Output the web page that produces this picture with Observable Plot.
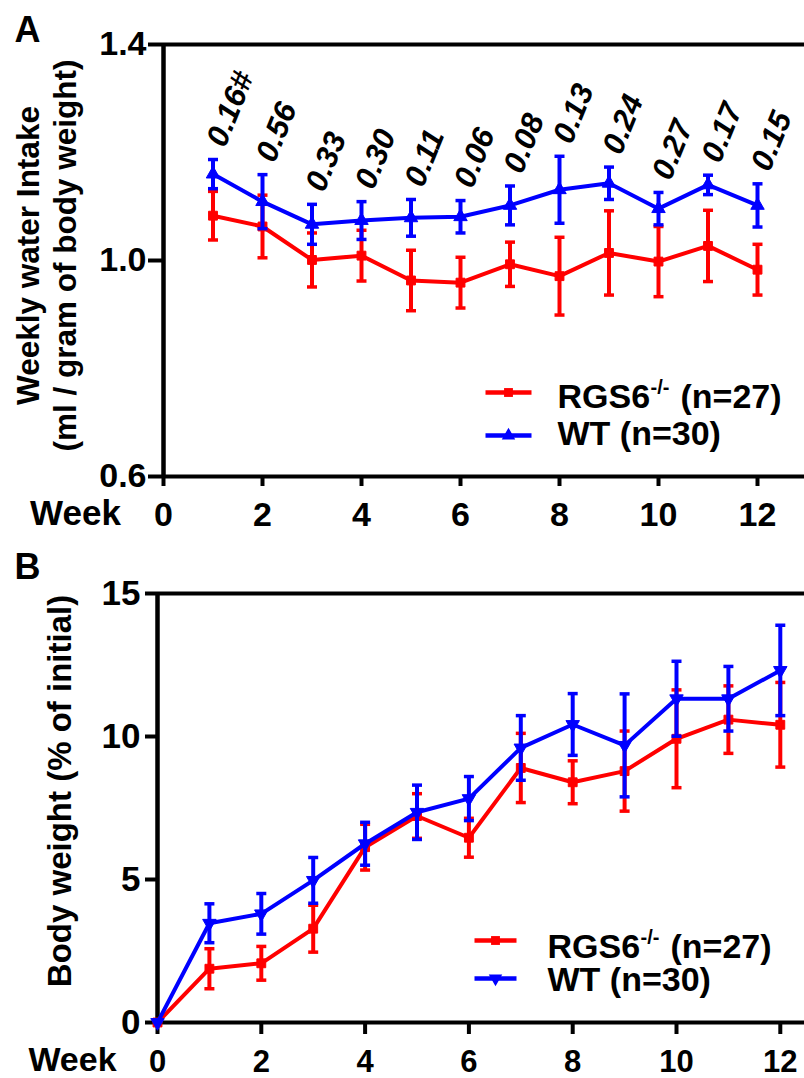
<!DOCTYPE html>
<html><head><meta charset="utf-8">
<script src="https://cdn.jsdelivr.net/npm/d3@7"></script>
<script src="https://cdn.jsdelivr.net/npm/@observablehq/plot@0.6"></script>
<style>
html,body{margin:0;padding:0;background:#fff;}
#fig{width:804px;overflow:hidden;}
#fig svg{display:block;}
</style></head><body><div id="fig"></div>
<script>
// ---------- data ----------
const weeksA = [1, 2, 3, 4, 5, 6, 7, 8, 9, 10, 11, 12];
const rgsIntake    = [1.083, 1.063, 1.001, 1.009, 0.963, 0.959, 0.993, 0.971, 1.014, 0.998, 1.027, 0.983];
const rgsIntakeSem = [0.045, 0.058, 0.050, 0.047, 0.056, 0.047, 0.041, 0.072, 0.078, 0.065, 0.066, 0.047];
const wtIntake     = [1.160, 1.109, 1.067, 1.074, 1.079, 1.081, 1.102, 1.131, 1.143, 1.096, 1.140, 1.102];
const wtIntakeSem  = [0.027, 0.050, 0.037, 0.035, 0.034, 0.030, 0.036, 0.062, 0.030, 0.030, 0.018, 0.040];
const pValues = ["0.16#", "0.56", "0.33", "0.30", "0.11", "0.06", "0.08", "0.13", "0.24", "0.27", "0.17", "0.15"];

const weeksB = [0, 1, 2, 3, 4, 5, 6, 7, 8, 9, 10, 11, 12];
const rgsWeight    = [0, 1.88, 2.07, 3.28, 6.13, 7.22, 6.46, 8.90, 8.40, 8.79, 9.92, 10.59, 10.41];
const rgsWeightSem = [0, 0.70, 0.59, 0.82, 0.80, 0.78, 0.68, 1.21, 0.75, 1.40, 1.71, 1.18, 1.48];
const wtWeight     = [0, 3.47, 3.80, 4.97, 6.25, 7.35, 7.83, 9.60, 10.42, 9.69, 11.32, 11.32, 12.31];
const wtWeightSem  = [0, 0.68, 0.71, 0.80, 0.75, 0.95, 0.77, 1.13, 1.08, 1.80, 1.31, 1.13, 1.58];

const xTicks = [0, 2, 4, 6, 8, 10, 12];
const yTicksA = [0.6, 1.0, 1.4];
const yTicksB = [0, 5, 10, 15];
const groupNames = ["RGS6", "WT"];
const groupColors = ["#ff0000", "#0000ff"];
const legendMain = ["RGS6", "WT (n=30)"];
const legendSup = "-/-";
const legendTail = "(n=27)";
const titleA = "Weekly water Intake\n(ml / gram of body weight)";
const titleB = "Body weight (% of initial)";

// ---------- helpers ----------
const FONT = "'Liberation Sans', Arial, Helvetica, sans-serif";
const hbar = { draw(ctx, size) { const r = Math.sqrt(size / Math.PI); ctx.moveTo(-r, 0); ctx.lineTo(r, 0); } };

function rows(weeks, means, sems, g) {
  return weeks.map((w, i) => ({ week: w, mean: means[i], sem: sems[i], group: groupNames[g] }));
}

function seriesMarks(data, color, symbol, rotate) {
  const eb = data.filter(d => d.sem > 0);
  return [
    Plot.ruleX(eb, { x: "week", y1: d => d.mean - d.sem, y2: d => d.mean + d.sem, stroke: color, strokeWidth: 4 }),
    Plot.dot(eb, { x: "week", y: d => d.mean + d.sem, symbol: hbar, r: 5, stroke: color, strokeWidth: 3.5 }),
    Plot.dot(eb, { x: "week", y: d => d.mean - d.sem, symbol: hbar, r: 5, stroke: color, strokeWidth: 3.5 }),
    Plot.line(data, { x: "week", y: "mean", stroke: color, strokeWidth: 4 }),
    Plot.dot(data, { x: "week", y: "mean", symbol, rotate, r: 5, fill: color, stroke: color, strokeWidth: 1 })
  ];
}

function legendMarks(c) {
  const m = [];
  [0, 1].forEach(i => {
    m.push(Plot.dot([0], { frameAnchor: "top-left", dx: c.lineDx, dy: c.lineDy[i], symbol: hbar, r: c.half, stroke: groupColors[i], strokeWidth: 4.5 }));
    m.push(Plot.dot([0], { frameAnchor: "top-left", dx: c.lineDx, dy: c.lineDy[i], symbol: i === 0 ? "square" : "triangle", rotate: i === 1 ? c.triRot : 0, r: 5, fill: groupColors[i] }));
    m.push(Plot.text([legendMain[i]], { text: d => d, frameAnchor: "top-left", dx: c.textDx, dy: c.textDy[i], textAnchor: "start", lineAnchor: "middle", fontSize: 34, fontWeight: "bold" }));
  });
  m.push(Plot.text([legendSup], { text: d => d, frameAnchor: "top-left", dx: c.textDx + 93, dy: c.supDy, textAnchor: "start", lineAnchor: "middle", fontSize: 20, fontWeight: "bold" }));
  m.push(Plot.text([legendTail], { text: d => d, frameAnchor: "top-left", dx: c.textDx + 123, dy: c.textDy[0], textAnchor: "start", lineAnchor: "middle", fontSize: 34, fontWeight: "bold" }));
  return m;
}

function place(svg) {
  document.getElementById("fig").append(svg);
}

// ---------- panel A ----------
const rgsA = rows(weeksA, rgsIntake, rgsIntakeSem, 0);
const wtA = rows(weeksA, wtIntake, wtIntakeSem, 1);
const HA = 545;
const chartA = Plot.plot({
  width: 804, height: HA,
  marginLeft: 163, marginRight: 0, marginTop: 44, marginBottom: HA - 476,
  style: { fontFamily: FONT, fontWeight: "bold", background: "white", overflow: "visible" },
  x: { domain: [0, (804 - 163) / 49.5], label: null, axis: null },
  y: { domain: [0.6, 1.4], label: null, axis: null },
  marks: [
    Plot.ruleY([1.4], { strokeWidth: 4 }),
    Plot.ruleY([0.6], { strokeWidth: 4 }),
    Plot.ruleX([0], { strokeWidth: 4.5 }),
    Plot.axisX(xTicks, { anchor: "bottom", tickSize: 10, tickPadding: 15, strokeWidth: 4, fontSize: 34, fontWeight: "bold", tickFormat: d => d, label: null }),
    Plot.axisY(yTicksA, { anchor: "left", tickSize: 15, tickPadding: 2, strokeWidth: 4, fontSize: 34, fontWeight: "bold", tickFormat: d3.format(".1f"), label: null }),
    ...seriesMarks(rgsA, groupColors[0], "square", 0),
    ...seriesMarks(wtA, groupColors[1], "triangle", 0),
    Plot.text(wtA, { x: "week", y: d => d.mean + d.sem, text: (d, i) => pValues[i], dx: 12, dy: -11, rotate: -68, textAnchor: "start", lineAnchor: "bottom", fontSize: 31, fontStyle: "italic", fontWeight: "bold" }),
    Plot.text(["Week"], { text: d => d, frameAnchor: "bottom-left", dx: 75 - 163, dy: 37, textAnchor: "middle", lineAnchor: "middle", fontSize: 35, fontWeight: "bold" }),
    Plot.text([titleA], { text: d => d, frameAnchor: "left", dx: 45 - 163, dy: -5, rotate: -90, textAnchor: "middle", lineAnchor: "middle", lineHeight: 1.18, fontSize: 31.5, fontWeight: "bold" }),
    Plot.text(["A"], { text: d => d, frameAnchor: "top-left", dx: 27 - 163, dy: -14, textAnchor: "middle", lineAnchor: "middle", fontSize: 36, fontWeight: "bold" }),
    ...legendMarks({ lineDx: 508 - 163, half: 23, lineDy: [348, 391], textDx: 557 - 163, textDy: [353, 390], supDy: 343, triRot: 0 })
  ]
});
place(chartA);

// ---------- panel B ----------
const rgsB = rows(weeksB, rgsWeight, rgsWeightSem, 0);
const wtB = rows(weeksB, wtWeight, wtWeightSem, 1);
const HB = 1078 - HA;
const chartB = Plot.plot({
  width: 804, height: HB,
  marginLeft: 157, marginRight: 0, marginTop: 593 - HA, marginBottom: HB - (1022 - HA),
  style: { fontFamily: FONT, fontWeight: "bold", background: "white", overflow: "visible" },
  x: { domain: [0, (804 - 157) / 51.9], label: null, axis: null },
  y: { domain: [0, 15], label: null, axis: null },
  marks: [
    Plot.ruleY([15], { strokeWidth: 4 }),
    Plot.ruleY([0], { strokeWidth: 4 }),
    Plot.ruleX([0], { strokeWidth: 4.5 }),
    Plot.axisX(xTicks, { anchor: "bottom", tickSize: 12, tickPadding: 15, strokeWidth: 4, fontSize: 31, fontWeight: "bold", tickFormat: d => d, label: null }),
    Plot.axisY(yTicksB, { anchor: "left", tickSize: 12, tickPadding: 5, strokeWidth: 4, fontSize: 35, fontWeight: "bold", tickFormat: d => d, label: null }),
    ...seriesMarks(rgsB, groupColors[0], "square", 0),
    ...seriesMarks(wtB, groupColors[1], "triangle", 180),
    Plot.text(["Week"], { text: d => d, frameAnchor: "bottom-left", dx: 72 - 157, dy: 38, textAnchor: "middle", lineAnchor: "middle", fontSize: 34, fontWeight: "bold" }),
    Plot.text([titleB], { text: d => d, frameAnchor: "left", dx: 60 - 157, dy: -17, rotate: -90, textAnchor: "middle", lineAnchor: "middle", fontSize: 33, fontWeight: "bold" }),
    Plot.text(["B"], { text: d => d, frameAnchor: "top-left", dx: 27 - 157, dy: -26, textAnchor: "middle", lineAnchor: "middle", fontSize: 36, fontWeight: "bold" }),
    ...legendMarks({ lineDx: 495 - 157, half: 21, lineDy: [347, 385], textDx: 547 - 157, textDy: [354, 387], supDy: 344, triRot: 180 })
  ]
});
place(chartB);
</script>
</body></html>
